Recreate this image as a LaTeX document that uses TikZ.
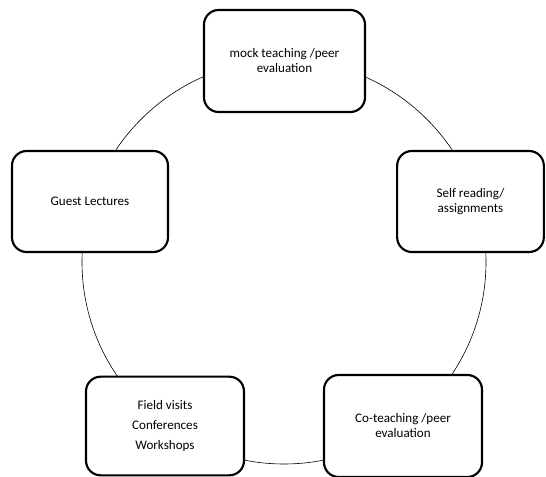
\documentclass[tikz,border=0pt]{standalone}
\usepackage{fontspec}
\setmainfont{Carlito}
\begin{document}
\begin{tikzpicture}[x=0.75pt,y=-0.75pt,
  stagebox/.style={draw,line width=1.6pt,fill=white,rounded corners=11pt,
    align=center,font=\fontsize{9.8}{11.25}\selectfont,inner sep=0pt}]
\useasboundingbox(0,0)rectangle(546,477);
% ring behind the boxes
\coordinate(ctr)at(284,262);
\draw[line width=.45pt](ctr)circle[radius=151.5pt];
% the five stages
\node[stagebox,minimum width=120.75pt,minimum height=76.5pt](mock)at(284.5,61){mock teaching /peer\\evaluation};
\node[stagebox,minimum width=110pt,minimum height=75.75pt](self)at(470.5,201.5){Self reading/\\assignments};
\node[stagebox,minimum width=118.5pt,minimum height=76.5pt](co)at(403,426){Co-teaching /peer\\evaluation};
\node[stagebox,minimum width=118.5pt,minimum height=74pt](field)at(165,426){Field visits\\[3.75pt]Conferences\\[3.75pt]Workshops};
\node[stagebox,minimum width=117pt,minimum height=75.75pt](guest)at(90,201.5){Guest Lectures};
\end{tikzpicture}
\end{document}
